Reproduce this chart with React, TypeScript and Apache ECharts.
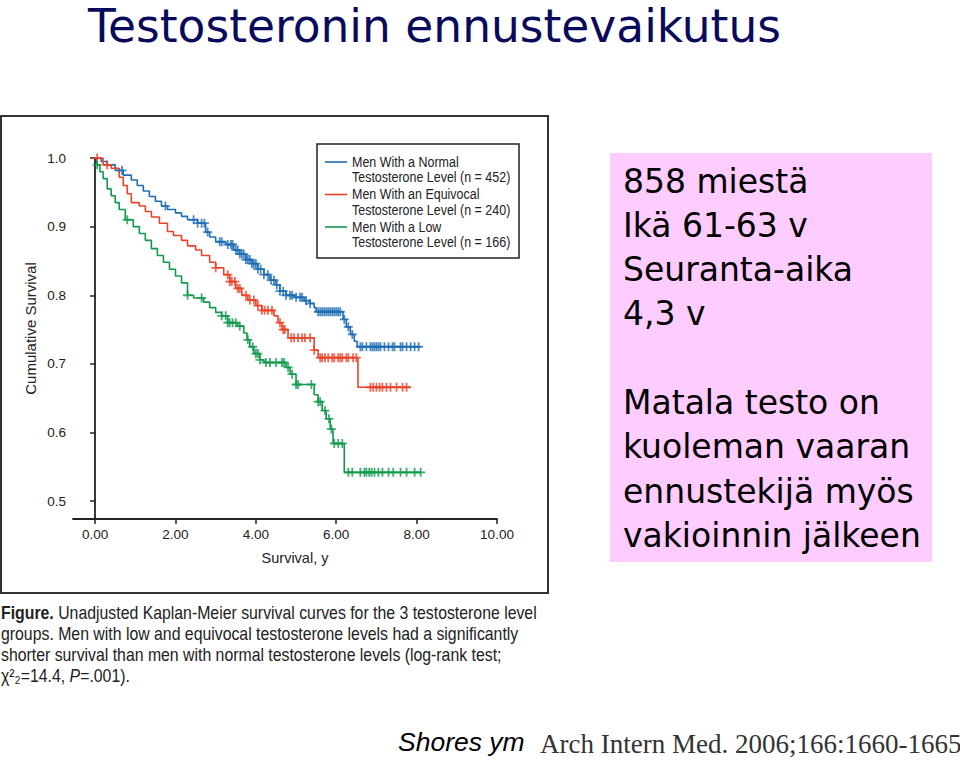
import React, { useEffect, useRef } from "react";
import * as echarts from "echarts";

// ---- Data ----
const groupLine1 = ["Men With a Normal", "Men With an Equivocal", "Men With a Low"];
const groupLine2 = [
  "Testosterone Level (n = 452)",
  "Testosterone Level (n = 240)",
  "Testosterone Level (n = 166)",
];
const groupColors = ["#1f6db5", "#e8442b", "#129a4b"];

const normalTimes = [0, 0.15, 0.3, 0.5, 0.7, 0.9, 1.05, 1.2, 1.35, 1.5, 1.65, 1.8, 2.0, 2.15, 2.3, 2.55, 2.75, 2.85, 3.0, 3.25, 3.45, 3.6, 3.75, 3.9, 4.05, 4.2, 4.35, 4.5, 4.6, 4.75, 4.95, 5.2, 5.35, 5.45, 5.5, 6.17, 6.25, 6.35, 6.45, 6.52];
const normalSurv = [1.0, 0.995, 0.99, 0.982, 0.975, 0.968, 0.96, 0.952, 0.944, 0.937, 0.93, 0.925, 0.92, 0.915, 0.91, 0.905, 0.892, 0.885, 0.878, 0.874, 0.866, 0.86, 0.852, 0.846, 0.838, 0.83, 0.822, 0.815, 0.806, 0.8, 0.797, 0.792, 0.788, 0.782, 0.776, 0.765, 0.754, 0.743, 0.733, 0.725];
const normalEnd = 8.1;

const equivTimes = [0, 0.2, 0.4, 0.6, 0.7, 0.8, 0.9, 1.1, 1.25, 1.4, 1.6, 1.8, 1.95, 2.15, 2.3, 2.5, 2.65, 2.85, 3.0, 3.2, 3.35, 3.5, 3.65, 3.8, 4.0, 4.15, 4.45, 4.55, 4.65, 4.8, 5.45, 5.55, 6.54];
const equivSurv = [1.0, 0.99, 0.985, 0.972, 0.96, 0.948, 0.935, 0.93, 0.922, 0.914, 0.905, 0.893, 0.887, 0.88, 0.872, 0.866, 0.858, 0.848, 0.84, 0.83, 0.82, 0.81, 0.8, 0.793, 0.785, 0.778, 0.77, 0.76, 0.75, 0.738, 0.72, 0.709, 0.666];
const equivEnd = 7.85;

const lowTimes = [0, 0.05, 0.12, 0.2, 0.3, 0.4, 0.5, 0.6, 0.75, 0.95, 1.1, 1.25, 1.4, 1.55, 1.7, 1.85, 2.0, 2.15, 2.3, 2.45, 2.7, 2.85, 3.0, 3.15, 3.3, 3.55, 3.7, 3.78, 3.85, 3.95, 4.1, 4.2, 4.75, 4.85, 5.0, 5.45, 5.55, 5.65, 5.75, 5.85, 5.92, 6.2];
const lowSurv = [1.0, 0.99, 0.98, 0.97, 0.955, 0.945, 0.935, 0.925, 0.91, 0.9, 0.89, 0.88, 0.868, 0.858, 0.848, 0.838, 0.828, 0.818, 0.8, 0.796, 0.79, 0.782, 0.775, 0.77, 0.76, 0.755, 0.745, 0.735, 0.725, 0.715, 0.706, 0.702, 0.695, 0.685, 0.67, 0.655, 0.645, 0.632, 0.62, 0.605, 0.584, 0.542];
const lowEnd = 8.12;

const normalCensor = [0.67, 1.75, 2.45, 2.55, 2.65, 2.72, 2.8, 3.1, 3.15, 3.3, 3.38, 3.42, 3.5, 3.55, 3.6, 3.65, 3.7, 3.75, 3.8, 3.85, 3.9, 3.95, 4.0, 4.05, 4.12, 4.2, 4.3, 4.38, 4.45, 4.52, 4.6, 4.68, 4.75, 4.85, 4.9, 5.0, 5.1, 5.15, 5.25, 5.35, 5.55, 5.6, 5.65, 5.7, 5.75, 5.8, 5.85, 5.9, 5.95, 6.0, 6.05, 6.1, 6.2, 6.3, 6.4, 6.6, 6.65, 6.75, 6.85, 6.9, 6.95, 7.0, 7.05, 7.1, 7.2, 7.3, 7.4, 7.45, 7.6, 7.65, 7.75, 7.85, 7.95, 8.05];
const equivCensor = [0.05, 0.3, 3.0, 3.3, 3.35, 3.4, 3.48, 3.55, 3.6, 3.75, 3.85, 3.95, 4.05, 4.15, 4.22, 4.3, 4.4, 4.6, 4.68, 4.72, 4.88, 4.95, 5.05, 5.15, 5.22, 5.35, 5.45, 5.6, 5.65, 5.72, 5.8, 5.9, 5.95, 6.05, 6.1, 6.15, 6.25, 6.3, 6.42, 6.5, 6.85, 6.92, 7.0, 7.08, 7.15, 7.25, 7.35, 7.5, 7.65, 7.75];
const lowCensor = [0.05, 0.8, 2.3, 2.65, 3.15, 3.25, 3.3, 3.35, 3.42, 3.5, 3.6, 3.8, 3.92, 4.0, 4.05, 4.1, 4.25, 4.35, 4.5, 4.65, 4.7, 4.8, 4.9, 5.0, 5.05, 5.38, 5.55, 5.6, 5.72, 5.82, 5.88, 5.95, 6.05, 6.15, 6.3, 6.4, 6.6, 6.7, 6.75, 6.82, 6.88, 6.95, 7.05, 7.15, 7.3, 7.42, 7.6, 7.75, 7.95, 8.1];

const xTicks = [0, 2, 4, 6, 8, 10];
const yTicks = [0.5, 0.6, 0.7, 0.8, 0.9, 1.0];

const titleText = "Testosteronin ennustevaikutus";
const infoLines = [
  "858 miestä",
  "Ikä 61-63 v",
  "Seuranta-aika",
  "4,3 v",
  "",
  "Matala testo on",
  "kuoleman vaaran",
  "ennustekijä myös",
  "vakioinnin jälkeen",
];
const captionLines = [
  "{b|Figure.} Unadjusted Kaplan-Meier survival curves for the 3 testosterone level",
  "groups. Men with low and equivocal testosterone levels had a significantly",
  "shorter survival than men with normal testosterone levels (log-rank test;",
  "χ²₂=14.4, {i|P}=.001).",
];
const citeAuthor = "Shores ym";
const citeRef = "Arch Intern Med. 2006;166:1660-1665";

// ---- helpers ----
const stepAt = (times: number[], surv: number[], t: number) => {
  let v = surv[0];
  for (let i = 0; i < times.length; i++) if (times[i] <= t) v = surv[i];
  return v;
};
const curveData = (times: number[], surv: number[], end: number) => {
  const d = times.map((t, i) => [t, surv[i]]);
  d.push([end, surv[surv.length - 1]]);
  return d;
};
const censorData = (times: number[], surv: number[], cens: number[]) =>
  cens.map((t) => [t, stepAt(times, surv, t)]);

const PLUS = "path://M3.6,0H5.4V3.6H9V5.4H5.4V9H3.6V5.4H0V3.6H3.6Z";
const ARIAL = "'Liberation Sans', Arial, sans-serif";

export default function App() {
  const ref = useRef<HTMLDivElement>(null);
  useEffect(() => {
    if (!ref.current) return;
    const chart = echarts.init(ref.current, undefined, { renderer: "svg" });
    const groups = [
      { times: normalTimes, surv: normalSurv, end: normalEnd, cens: normalCensor },
      { times: equivTimes, surv: equivSurv, end: equivEnd, cens: equivCensor },
      { times: lowTimes, surv: lowSurv, end: lowEnd, cens: lowCensor },
    ];
    const series: any[] = [];
    groups.forEach((g, i) => {
      series.push({
        name: groupLine1[i],
        type: "line",
        step: "end",
        showSymbol: false,
        data: curveData(g.times, g.surv, g.end),
        lineStyle: { color: groupColors[i], width: 1.6 },
        itemStyle: { color: groupColors[i] },
        z: 2,
      });
    });
    groups.forEach((g, i) => {
      series.push({
        name: groupLine1[i] + " (censored)",
        type: "scatter",
        symbol: PLUS,
        symbolSize: 9,
        data: censorData(g.times, g.surv, g.cens),
        itemStyle: { color: groupColors[i] },
        z: 3,
      });
    });

    const legendEls: any[] = [
      {
        type: "rect",
        shape: { x: 317, y: 144, width: 202, height: 114 },
        style: { fill: "#fff", stroke: "#222", lineWidth: 1.5 },
        z: 10,
      },
    ];
    groupLine1.forEach((name, i) => {
      const y0 = 162 + i * 32.5;
      legendEls.push({
        type: "line",
        shape: { x1: 325, y1: y0, x2: 347, y2: y0 },
        style: { stroke: groupColors[i], lineWidth: 1.6 },
        z: 11,
      });
      legendEls.push({
        type: "text",
        x: 352,
        y: y0,
        scaleX: 0.86,
        style: { text: name, fontFamily: ARIAL, fontSize: 14.5, fill: "#222", textVerticalAlign: "middle" },
        z: 11,
      });
      legendEls.push({
        type: "text",
        x: 352,
        y: y0 + 15.5,
        scaleX: 0.86,
        style: { text: groupLine2[i], fontFamily: ARIAL, fontSize: 14.5, fill: "#222", textVerticalAlign: "middle" },
        z: 11,
      });
    });

    const infoEls = infoLines.map((line, i) => ({
      type: "text",
      x: 623,
      y: 181 + i * 44.3,
      style: { text: line, fontFamily: "'DejaVu Sans', sans-serif", fontSize: 33, fill: "#000", textVerticalAlign: "middle" },
      z: 11,
    }));

    const captionEls = captionLines.map((line, i) => ({
      type: "text",
      x: 1,
      y: 613 + i * 21,
      scaleX: 0.88,
      style: {
        text: line,
        fontFamily: ARIAL,
        fontSize: 18,
        fill: "#222",
        textVerticalAlign: "middle",
        rich: {
          b: { fontFamily: ARIAL, fontSize: 18, fontWeight: "bold", fill: "#222" },
          i: { fontFamily: ARIAL, fontSize: 18, fontStyle: "italic", fill: "#222" },
        },
      },
    }));

    chart.setOption({
      animation: false,
      backgroundColor: "#fff",
      grid: { left: 73, top: 158, width: 424, height: 361 },
      xAxis: {
        type: "value",
        min: -0.55,
        max: 10,
        name: "Survival, y",
        nameLocation: "middle",
        nameGap: 31,
        nameTextStyle: { fontFamily: ARIAL, fontSize: 14.5, color: "#222", padding: [0, 0, 0, 20] },
        axisLine: { show: true, lineStyle: { color: "#222", width: 1.8 } },
        axisTick: { show: true, customValues: xTicks, length: 5, lineStyle: { color: "#222", width: 1.5 } },
        axisLabel: {
          customValues: xTicks,
          formatter: (v: number) => v.toFixed(2),
          fontFamily: ARIAL,
          fontSize: 13.5,
          color: "#222",
          margin: 8,
        },
        splitLine: { show: false },
      },
      yAxis: {
        type: "value",
        min: 0.474,
        max: 1.0,
        name: "Cumulative Survival",
        nameLocation: "middle",
        nameGap: 35,
        nameRotate: 90,
        nameTextStyle: { fontFamily: ARIAL, fontSize: 15, color: "#222", padding: [0, 0, 0, 20] },
        axisLine: { show: true, lineStyle: { color: "#222", width: 1.8 } },
        axisTick: { show: true, customValues: yTicks, length: 5, lineStyle: { color: "#222", width: 1.5 } },
        axisLabel: {
          customValues: yTicks,
          formatter: (v: number) => v.toFixed(1),
          fontFamily: ARIAL,
          fontSize: 13.5,
          color: "#222",
          margin: 7,
        },
        splitLine: { show: false },
      },
      legend: { show: false },
      series,
      graphic: [
        {
          type: "text",
          x: 88,
          y: 26,
          style: { text: titleText, fontFamily: "'DejaVu Sans', sans-serif", fontSize: 45.5, fill: "#0a0a5c", textVerticalAlign: "middle" },
        },
        {
          type: "rect",
          shape: { x: 1, y: 116, width: 547, height: 477 },
          style: { fill: "none", stroke: "#333", lineWidth: 2 },
          z: 1,
        },
        ...legendEls,
        {
          type: "rect",
          shape: { x: 610, y: 153, width: 322, height: 409 },
          style: { fill: "#ffccff", stroke: "none" },
          z: 1,
        },
        ...infoEls,
        ...captionEls,
        {
          type: "text",
          x: 398,
          y: 742,
          style: { text: citeAuthor, fontFamily: ARIAL, fontSize: 26.5, fontStyle: "italic", fill: "#000", textVerticalAlign: "middle" },
        },
        {
          type: "text",
          x: 540,
          y: 744,
          style: { text: citeRef, fontFamily: "'Liberation Serif', 'DejaVu Serif', serif", fontSize: 27, fill: "#333", textVerticalAlign: "middle" },
        },
      ],
    });
    return () => chart.dispose();
  }, []);
  return (
    <div
      ref={ref}
      style={{ position: "absolute", left: 0, top: 0, width: 960, height: 760, background: "#fff" }}
    />
  );
}
